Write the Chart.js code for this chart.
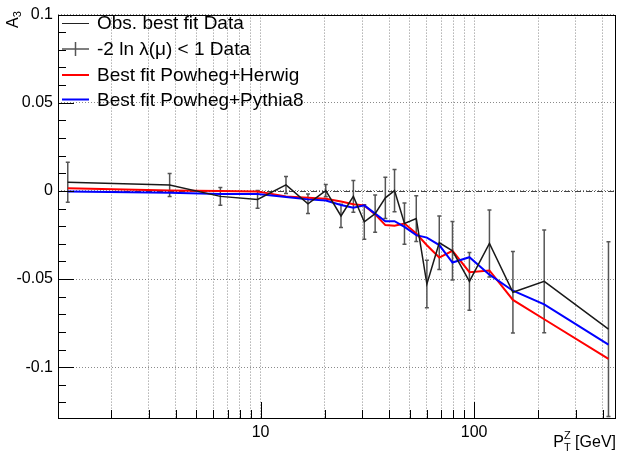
<!DOCTYPE html>
<html><head><meta charset="utf-8">
<script src="https://cdn.jsdelivr.net/npm/chart.js@4/dist/chart.umd.min.js"></script>
<style>html,body{margin:0;padding:0;background:#fff;} #wrap{width:618px;height:458px;position:relative;}</style>
</head><body><div id="wrap"><canvas id="c"></canvas></div>
<script>
// ---- data ----
const ptBins   = [1.25, 3.75, 6.48, 9.68, 13.15, 16.67, 20.2, 23.8, 27.2, 30.6, 34.4, 38.4, 42.4, 47.2, 53.6, 60.1, 68.7, 79.2, 95.1, 118, 152, 213, 426];
const dataA3   = [0.0049, 0.0034, -0.0031, -0.0048, 0.0034, -0.0073, 0.0002, -0.0142, -0.0031, -0.0176, -0.0129, -0.0039, 0.0002, -0.0185, -0.0157, -0.0528, -0.0294, -0.0340, -0.0513, -0.0298, -0.0575, -0.0513, -0.0784];
const dataErr  = [0.0114, 0.0065, 0.0050, 0.0050, 0.0048, 0.0055, 0.0035, 0.0066, 0.0090, 0.0098, 0.0106, 0.0117, 0.0120, 0.0117, 0.0130, 0.0135, 0.0152, 0.0166, 0.0164, 0.0190, 0.0231, 0.0292, 0.0496];
const herwigA3 = [0.0015, 0.0002, 0.0000, -0.0003, -0.0031, -0.0039, -0.0045, -0.0060, -0.0076, -0.0082, -0.0133, -0.0194, -0.0198, -0.0185, -0.0242, -0.0308, -0.0378, -0.0340, -0.0461, -0.0451, -0.0618, -0.0728, -0.0953];
const pythiaA3 = [-0.0003, -0.0011, -0.0017, -0.0017, -0.0035, -0.0048, -0.0054, -0.0080, -0.0096, -0.0082, -0.0129, -0.0172, -0.0172, -0.0204, -0.0251, -0.0265, -0.0307, -0.0406, -0.0376, -0.0475, -0.0566, -0.0644, -0.0872];
const xGridValues  = [2,3,4,5,6,7,8,9,10,20,30,40,50,60,70,80,90,100,200,300,400];
const xLabelValues = [10, 100];
const yTickValues  = [-0.1, -0.05, 0, 0.05, 0.1];
const yTickLabels  = ['-0.1', '-0.05', '0', '0.05', '0.1'];
const yMinorValues = [-0.12,-0.11,-0.09,-0.08,-0.07,-0.06,-0.04,-0.03,-0.02,-0.01,0.01,0.02,0.03,0.04,0.06,0.07,0.08,0.09];
const legendLabels = ['Obs. best fit Data', '-2 ln \u03BB(\u03BC) < 1 Data', 'Best fit Powheg+Herwig', 'Best fit Powheg+Pythia8'];

const FONT = '"Liberation Sans", Arial, Helvetica, sans-serif';

const extras = {
  id: 'extras',
  beforeDatasetsDraw(chart) {
    const {ctx, scales:{x, y}, chartArea:a} = chart;
    ctx.save();
    ctx.beginPath(); ctx.rect(a.left, a.top, a.right - a.left, a.bottom - a.top); ctx.clip();
    // zero dash-dot line
    const y0 = Math.round(y.getPixelForValue(0)) + 0.5;
    ctx.strokeStyle = '#444'; ctx.lineWidth = 1; ctx.setLineDash([6, 2, 1, 2]);
    ctx.beginPath(); ctx.moveTo(a.left, y0); ctx.lineTo(a.right, y0); ctx.stroke();
    ctx.setLineDash([]);
    // error bars
    ctx.strokeStyle = '#555'; ctx.lineWidth = 1.5;
    for (let i = 0; i < ptBins.length; i++) {
      const px = x.getPixelForValue(ptBins[i]);
      const t = y.getPixelForValue(dataA3[i] + dataErr[i]);
      const b = y.getPixelForValue(dataA3[i] - dataErr[i]);
      ctx.beginPath();
      ctx.moveTo(px, t); ctx.lineTo(px, b);
      ctx.moveTo(px - 2, t); ctx.lineTo(px + 2, t);
      ctx.moveTo(px - 2, b); ctx.lineTo(px + 2, b);
      ctx.stroke();
    }
    ctx.restore();
  },
  afterDraw(chart) {
    const {ctx, scales:{x, y}, chartArea:a} = chart;
    ctx.save();
    // frame
    ctx.strokeStyle = '#000'; ctx.lineWidth = 1;
    ctx.strokeRect(Math.round(a.left) + 0.5, Math.round(a.top) + 0.5, Math.round(a.right - a.left) - 1, Math.round(a.bottom - a.top));
    // y ticks (inside)
    ctx.beginPath();
    yTickValues.forEach(v => { const p = Math.round(y.getPixelForValue(v)) + 0.5; ctx.moveTo(a.left, p); ctx.lineTo(a.left + 16, p); });
    yMinorValues.forEach(v => { const p = Math.round(y.getPixelForValue(v)) + 0.5; ctx.moveTo(a.left, p); ctx.lineTo(a.left + 8, p); });
    // x ticks (inside)
    xGridValues.forEach(v => {
      const p = Math.round(x.getPixelForValue(v)) + 0.5;
      const len = xLabelValues.includes(v) ? 16 : 8;
      ctx.moveTo(p, a.bottom); ctx.lineTo(p, a.bottom - len);
    });
    ctx.stroke();

    // legend
    const lx0 = 62, lx1 = 89, tx = 97, ys = [23, 49, 75, 99.5];
    ctx.font = '19px ' + FONT; ctx.fillStyle = '#000'; ctx.textBaseline = 'middle'; ctx.textAlign = 'left';
    // entry 1: thin black line
    ctx.strokeStyle = '#222'; ctx.lineWidth = 1;
    ctx.beginPath(); ctx.moveTo(lx0, ys[0] + 0.5); ctx.lineTo(lx1, ys[0] + 0.5); ctx.stroke();
    // entry 2: cross
    ctx.strokeStyle = '#555'; ctx.lineWidth = 1.5;
    ctx.beginPath(); ctx.moveTo(lx0, ys[1]); ctx.lineTo(lx1, ys[1]);
    ctx.moveTo((lx0 + lx1) / 2, ys[1] - 7); ctx.lineTo((lx0 + lx1) / 2, ys[1] + 7); ctx.stroke();
    // entry 3, 4
    ctx.lineWidth = 2;
    ctx.strokeStyle = '#ff0000'; ctx.beginPath(); ctx.moveTo(lx0, ys[2]); ctx.lineTo(lx1, ys[2]); ctx.stroke();
    ctx.strokeStyle = '#0000ff'; ctx.beginPath(); ctx.moveTo(lx0, ys[3]); ctx.lineTo(lx1, ys[3]); ctx.stroke();
    legendLabels.forEach((t, i) => ctx.fillText(t, tx, ys[i] + 1));

    // y axis title  A_3 (rotated)
    ctx.save();
    ctx.translate(18, 28); ctx.rotate(-Math.PI / 2);
    ctx.textBaseline = 'alphabetic'; ctx.textAlign = 'left';
    ctx.font = '16px ' + FONT; ctx.fillText('A', 0, 0);
    const wA = ctx.measureText('A').width;
    ctx.font = '11px ' + FONT; ctx.fillText('3', wA, 3);
    ctx.restore();

    // x axis title  P_T^Z [GeV]
    ctx.textBaseline = 'alphabetic'; ctx.textAlign = 'left';
    ctx.font = '16px ' + FONT;
    const wG = ctx.measureText(' [GeV]').width;
    ctx.font = '11px ' + FONT;
    const wS = Math.max(ctx.measureText('T').width, ctx.measureText('Z').width);
    ctx.font = '16px ' + FONT;
    const wP = ctx.measureText('P').width;
    const base = 447, xr = 616;
    let xs = xr - wG - wS - wP;
    ctx.fillText('P', xs, base);
    ctx.font = '11px ' + FONT;
    ctx.fillText('Z', xs + wP, base - 8);
    ctx.fillText('T', xs + wP, base + 4);
    ctx.font = '16px ' + FONT;
    ctx.fillText(' [GeV]', xs + wP + wS, base);
    ctx.restore();
  }
};

const pts = arr => ptBins.map((v, i) => ({x: v, y: arr[i]}));

new Chart(document.getElementById('c'), {
  type: 'line',
  data: {
    datasets: [
      {label: legendLabels[0], data: pts(dataA3), borderColor: '#1a1a1a', borderWidth: 1.5, pointRadius: 0, tension: 0, order: 0},
      {label: legendLabels[3], data: pts(pythiaA3), borderColor: '#0000ff', borderWidth: 2, pointRadius: 0, tension: 0, order: 1},
      {label: legendLabels[2], data: pts(herwigA3), borderColor: '#ff0000', borderWidth: 2, pointRadius: 0, tension: 0, order: 2}
    ]
  },
  options: {
    responsive: true, maintainAspectRatio: false, animation: false,
    layout: {padding: {left: 0, right: 2, top: 11, bottom: 0}},
    plugins: {legend: {display: false}, tooltip: {enabled: false}},
    scales: {
      x: {
        type: 'logarithmic', min: 1.125, max: 462,
        afterBuildTicks: s => { s.ticks = xGridValues.map(v => ({value: v})); },
        afterFit: s => { s.height = 40; },
        ticks: {autoSkip: false, maxRotation: 0, padding: 5, color: '#000', font: {family: FONT, size: 16},
          callback: v => xLabelValues.includes(v) ? String(v) : ''},
        grid: {color: '#8a8a8a', lineWidth: 1, drawTicks: false},
        border: {display: false, dash: [1, 2]}
      },
      y: {
        type: 'linear', min: -0.1288, max: 0.1,
        afterBuildTicks: s => { s.ticks = yTickValues.map(v => ({value: v})); },
        afterFit: s => { s.width = 58; },
        ticks: {padding: 5, color: '#000', font: {family: FONT, size: 16},
          callback: (v, i) => yTickLabels[i]},
        grid: {color: '#8a8a8a', lineWidth: 1, drawTicks: false},
        border: {display: false, dash: [1, 2]}
      }
    }
  },
  plugins: [extras]
});
</script>
</body></html>
